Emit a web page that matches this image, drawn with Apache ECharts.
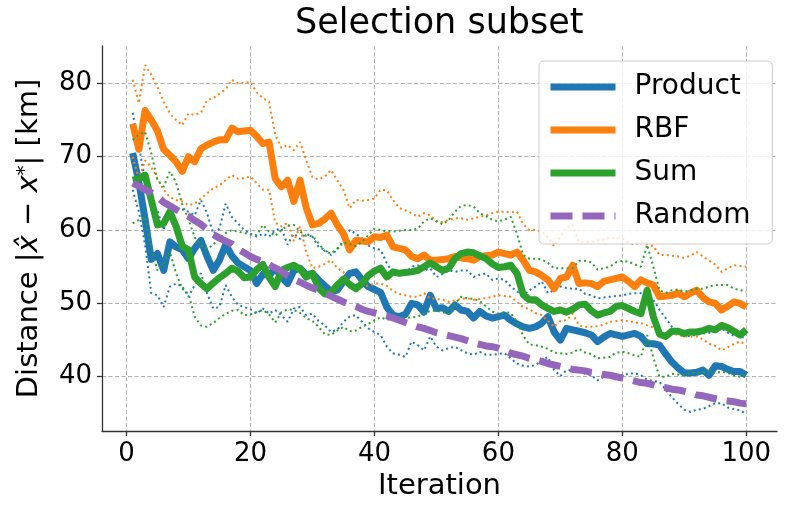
<!DOCTYPE html>
<html>
<head>
<meta charset="utf-8">
<script src="https://cdn.jsdelivr.net/npm/echarts@6/dist/echarts.min.js"></script>
<style>
  html, body { margin: 0; padding: 0; background: #fff; }
  #chart { width: 788px; height: 516px; }
</style>
</head>
<body>
<div id="chart"></div>
<script>
// iteration numbers 1..100
var iterations = Array.from({ length: 100 }, function (_, i) { return i + 1; });

var xTicks = [0, 20, 40, 60, 80, 100];
var yTicks = [40, 50, 60, 70, 80];

// mean curves
var productMean = [
  70.5, 66.5, 61.5, 56.0, 56.8, 54.5, 58.4, 57.7, 57.3, 56.1,
  57.5, 58.6, 56.4, 54.5, 55.9, 58.0, 56.5, 55.5, 55.0, 54.5,
  52.7, 54.0, 53.8, 54.8, 53.6, 52.7, 54.5, 54.8, 53.9, 54.1,
  53.2, 52.4, 51.6, 51.8, 53.0, 54.1, 54.3, 53.2, 52.3, 51.9,
  51.5, 49.5, 48.4, 48.2, 48.5, 50.0, 49.8, 48.8, 51.1, 49.3,
  49.4, 48.9, 49.8, 49.1, 48.9, 48.0, 48.9, 48.3, 48.0, 48.2,
  48.4, 47.7, 47.2, 46.8, 46.6, 46.8, 47.3, 48.2, 46.1, 45.0,
  46.6, 46.4, 46.2, 46.0, 45.7, 44.8, 45.4, 45.9, 45.7, 45.5,
  45.7, 45.9, 45.5, 44.5, 44.5, 44.3, 43.1, 42.0, 41.2, 40.5,
  40.5, 40.6, 40.9, 40.2, 41.5, 41.4, 41.0, 40.7, 40.7, 40.2
];
var rbfMean = [
  74.5, 71.0, 76.3, 75.0, 73.5, 71.0, 70.2, 69.3, 68.0, 70.0,
  69.3, 71.1, 71.6, 72.0, 72.3, 72.3, 73.9, 73.4, 73.5, 73.6,
  72.8, 71.8, 72.0, 67.0, 65.9, 66.8, 63.9, 66.8, 63.0, 60.7,
  60.9, 61.5, 62.3, 60.7, 59.5, 57.3, 58.6, 58.5, 58.4, 59.1,
  59.0, 59.3, 57.7, 57.5, 57.3, 56.4, 56.1, 56.6, 55.9, 55.9,
  56.0, 56.1, 56.4, 56.2, 56.1, 55.9, 56.4, 56.5, 56.6, 57.0,
  56.8, 56.6, 57.0, 55.9, 54.5, 54.3, 53.8, 53.2, 52.0, 53.4,
  53.6, 55.2, 52.7, 52.8, 52.7, 52.3, 53.0, 53.2, 53.4, 53.6,
  53.0, 52.3, 53.2, 52.8, 52.5, 50.9, 51.0, 51.1, 51.4, 50.9,
  51.4, 51.8, 50.8, 50.2, 50.0, 49.1, 49.6, 50.2, 50.0, 49.5
];
var sumMean = [
  66.8, 67.0, 67.5, 64.1, 60.7, 60.9, 62.5, 60.5, 57.8, 57.3,
  53.6, 52.7, 52.0, 52.8, 53.5, 54.1, 54.8, 54.4, 53.5, 53.6,
  54.6, 55.3, 53.6, 52.3, 54.5, 54.9, 55.2, 54.7, 53.6, 54.1,
  52.1, 51.3, 51.5, 52.5, 53.3, 52.6, 52.0, 52.7, 53.8, 54.4,
  54.8, 53.6, 54.3, 54.1, 54.2, 54.3, 54.5, 55.0, 55.5, 55.0,
  54.5, 54.8, 56.1, 56.8, 57.0, 56.9, 56.5, 56.1, 55.4, 54.9,
  55.0, 55.2, 54.1, 51.2, 50.5, 50.5, 49.8, 49.3, 48.9, 49.1,
  48.8, 49.2, 49.8, 49.9, 49.0, 48.4, 48.7, 48.9, 49.6, 49.7,
  49.3, 48.9, 48.6, 51.8, 48.2, 45.8, 45.5, 46.2, 46.2, 45.9,
  46.1, 46.1, 46.3, 46.6, 46.4, 47.0, 46.7, 46.2, 45.7, 46.4
];
var randomMean = [
  66.4, 66.0, 65.5, 65.1, 64.5, 63.8, 63.3, 62.8, 62.3, 61.9,
  61.3, 60.8, 60.1, 59.4, 58.9, 58.5, 58.1, 57.4, 56.9, 56.4,
  56.0, 55.7, 55.3, 54.8, 54.4, 53.8, 53.3, 52.9, 52.5, 52.1,
  51.8, 51.4, 51.0, 50.6, 50.2, 49.9, 49.6, 49.2, 48.9, 48.7,
  48.5, 48.3, 48.0, 47.7, 47.4, 47.1, 46.8, 46.6, 46.3, 46.0,
  45.8, 45.6, 45.4, 45.2, 44.9, 44.6, 44.4, 44.2, 44.1, 43.9,
  43.6, 43.2, 43.0, 42.8, 42.5, 42.3, 42.1, 41.8, 41.6, 41.4,
  41.2, 41.0, 40.9, 40.8, 40.6, 40.5, 40.3, 40.2, 40.0, 39.8,
  39.6, 39.4, 39.2, 39.1, 38.9, 38.6, 38.5, 38.3, 38.2, 38.0,
  37.8, 37.5, 37.4, 37.2, 37.0, 36.8, 36.7, 36.6, 36.4, 36.3
];

// dotted spread lines (upper / lower)
var productUpper = [
  76.0, 71.5, 66.8, 63.2, 62.7, 60.0, 63.3, 63.0, 62.8, 62.5,
  62.0, 64.1, 62.3, 59.5, 60.2, 63.6, 61.8, 60.9, 60.0, 59.5,
  59.1, 59.5, 59.1, 60.0, 60.2, 58.0, 59.5, 58.8, 59.5, 59.1,
  57.7, 57.3, 56.6, 57.3, 58.6, 60.0, 59.5, 58.9, 57.9, 57.5,
  57.3, 55.5, 54.1, 53.9, 54.1, 55.0, 55.2, 54.5, 54.8, 53.6,
  54.0, 54.5, 54.3, 54.5, 54.5, 53.6, 53.9, 54.1, 53.2, 53.4,
  53.2, 52.3, 51.6, 51.1, 51.8, 52.3, 53.0, 51.4, 51.8, 52.3,
  52.1, 52.0, 52.0, 51.3, 51.1, 50.7, 50.8, 50.9, 51.0, 51.1,
  51.3, 51.4, 51.4, 50.9, 50.5, 49.1, 48.0, 46.8, 46.0, 45.5,
  45.6, 45.7, 45.9, 46.0, 46.2, 46.6, 46.0, 45.6, 45.5, 45.2
];
var productLower = [
  65.5, 62.5, 58.0, 51.4, 51.1, 49.5, 52.3, 52.7, 52.3, 50.9,
  52.5, 54.1, 51.4, 49.3, 49.5, 52.5, 50.9, 49.8, 49.5, 49.2,
  48.6, 49.3, 48.6, 49.1, 48.4, 47.5, 49.3, 49.5, 48.4, 48.6,
  47.6, 47.0, 46.1, 46.4, 47.5, 48.2, 48.4, 47.5, 46.6, 46.1,
  45.7, 44.1, 43.2, 43.0, 42.7, 44.8, 44.3, 43.6, 45.5, 44.1,
  43.6, 43.9, 44.1, 43.6, 43.2, 43.0, 43.4, 43.0, 43.0, 43.1,
  43.2, 42.5, 41.8, 41.5, 41.4, 41.6, 42.2, 42.7, 40.9, 40.1,
  40.9, 40.9, 40.8, 40.4, 40.2, 39.5, 40.0, 40.5, 40.3, 40.2,
  40.4, 40.5, 40.2, 39.6, 39.4, 39.3, 38.2, 37.2, 36.3, 35.5,
  35.2, 35.5, 35.6, 36.0, 36.4, 36.4, 35.8, 35.6, 35.4, 35.0
];
var rbfUpper = [
  80.5, 77.3, 82.5, 81.2, 79.5, 77.5, 75.9, 75.0, 74.3, 75.9,
  75.7, 76.0, 77.7, 78.0, 78.6, 79.2, 80.5, 80.0, 80.1, 80.2,
  78.8, 78.0, 77.5, 73.0, 71.2, 71.6, 70.9, 72.0, 69.5, 67.2,
  66.9, 67.3, 68.2, 66.8, 65.5, 63.0, 64.1, 64.0, 64.1, 64.3,
  65.5, 65.4, 64.1, 63.0, 62.7, 62.3, 61.8, 62.3, 62.0, 61.2,
  61.1, 61.4, 61.6, 61.6, 61.4, 61.6, 61.8, 62.0, 62.3, 62.5,
  62.5, 62.4, 62.5, 60.8, 60.0, 60.0, 59.8, 59.0, 57.8, 59.1,
  60.4, 60.7, 58.4, 58.4, 58.4, 58.6, 58.7, 58.9, 58.9, 58.9,
  58.3, 58.0, 58.4, 58.1, 57.8, 56.6, 56.6, 56.5, 56.4, 56.2,
  56.5, 57.0, 56.4, 55.8, 55.3, 54.3, 54.8, 55.2, 55.1, 55.0
];
var rbfLower = [
  70.0, 67.0, 69.5, 68.6, 67.0, 65.5, 64.5, 64.1, 63.9, 63.4,
  63.6, 64.3, 65.0, 65.7, 66.1, 66.8, 67.5, 67.0, 67.1, 67.3,
  66.4, 65.5, 65.5, 61.0, 60.5, 61.0, 58.5, 60.5, 57.0, 54.8,
  55.0, 55.4, 55.9, 54.8, 54.3, 52.0, 52.6, 52.4, 52.4, 52.7,
  52.7, 52.4, 51.7, 51.3, 51.1, 50.9, 50.9, 51.4, 50.7, 50.6,
  50.5, 50.2, 50.4, 50.6, 50.7, 50.5, 50.6, 50.7, 50.9, 51.1,
  51.0, 50.9, 50.2, 49.5, 49.2, 48.7, 48.4, 47.6, 46.8, 47.6,
  47.7, 48.6, 47.0, 46.8, 46.8, 46.9, 47.1, 47.5, 47.6, 47.7,
  47.6, 47.4, 47.3, 47.0, 46.7, 46.1, 46.0, 45.9, 45.7, 45.5,
  45.5, 45.5, 45.1, 44.5, 44.2, 43.6, 44.0, 44.5, 44.8, 44.3
];
var sumUpper = [
  72.3, 73.0, 73.4, 70.5, 66.8, 65.9, 68.0, 66.5, 63.5, 61.5,
  59.0, 57.9, 57.4, 58.0, 59.0, 59.6, 60.0, 59.8, 59.6, 59.4,
  59.3, 60.7, 59.8, 59.2, 60.0, 60.6, 60.7, 59.8, 59.2, 59.2,
  58.2, 57.1, 56.8, 57.5, 58.3, 58.1, 57.8, 58.4, 59.3, 60.2,
  60.0, 59.8, 59.8, 59.9, 60.0, 60.0, 60.2, 61.2, 61.6, 61.2,
  60.8, 61.4, 62.5, 63.3, 63.4, 63.2, 62.3, 61.9, 61.4, 61.2,
  61.4, 61.8, 59.5, 56.6, 56.1, 56.1, 56.0, 55.5, 54.8, 54.8,
  54.8, 54.8, 55.8, 55.8, 55.6, 54.6, 54.8, 55.0, 55.6, 55.8,
  55.7, 55.3, 55.0, 58.0, 55.0, 51.8, 51.4, 51.8, 51.9, 51.6,
  51.8, 52.0, 52.0, 52.3, 52.5, 52.5, 52.5, 52.0, 51.8, 51.6
];
var sumLower = [
  60.9, 61.4, 61.8, 57.7, 54.5, 55.5, 57.0, 54.1, 52.0, 51.3,
  48.2, 47.0, 46.8, 47.3, 48.0, 48.6, 49.0, 49.1, 48.4, 48.5,
  48.8, 49.1, 48.5, 47.4, 48.8, 49.2, 49.1, 48.7, 48.0, 47.6,
  46.8, 45.8, 45.7, 46.3, 46.8, 46.2, 46.3, 46.8, 47.2, 47.7,
  48.1, 47.8, 47.8, 48.0, 48.0, 48.1, 48.2, 48.6, 49.0, 49.0,
  48.8, 48.6, 50.0, 50.9, 50.7, 50.6, 50.3, 49.6, 48.9, 48.6,
  48.8, 48.7, 47.5, 45.6, 44.4, 44.3, 44.1, 43.8, 43.3, 43.2,
  43.1, 43.3, 43.8, 43.3, 43.1, 42.5, 42.6, 42.7, 43.3, 43.4,
  43.2, 42.9, 42.7, 45.7, 42.6, 40.0, 40.0, 40.4, 40.3, 40.2,
  40.5, 40.5, 40.6, 40.7, 40.5, 40.7, 40.5, 40.2, 40.0, 40.3
];

var colors = {
  product: '#1f77b4',
  rbf: '#ff7f0e',
  sum: '#2ca02c',
  random: '#9467bd'
};
var font = 'DejaVu Sans';

function pairs(values) {
  return values.map(function (v, i) { return [iterations[i], v]; });
}

// thick mean line
function meanLine(name, values, color, dash) {
  return {
    name: name,
    type: 'line',
    data: pairs(values),
    symbol: 'none',
    showSymbol: false,
    itemStyle: { color: color },
    lineStyle: { color: color, width: 7, type: dash || 'solid', cap: 'butt', join: 'round' },
    emphasis: { disabled: true },
    silent: true
  };
}

// thin dotted spread line
function dotLine(name, values, color) {
  return {
    name: name,
    type: 'line',
    data: pairs(values),
    symbol: 'none',
    showSymbol: false,
    itemStyle: { color: color },
    lineStyle: { color: color, width: 2, type: [2, 3.2], cap: 'butt' },
    emphasis: { disabled: true },
    silent: true
  };
}

var chart = echarts.init(document.getElementById('chart'), null, { renderer: 'canvas' });

var option = {
  animation: false,
  backgroundColor: '#ffffff',
  title: {
    text: 'Selection subset',
    left: 295,
    top: 6,
    padding: 0,
    textStyle: { fontFamily: font, fontSize: 35, fontWeight: 'normal', color: '#000' }
  },
  legend: {
    data: ['Product', 'RBF', 'Sum', 'Random'],
    orient: 'vertical',
    left: 539,
    top: 61,
    padding: [12, 22, 14, 8],
    itemGap: 15,
    itemWidth: 65,
    itemHeight: 28,
    backgroundColor: 'rgba(255,255,255,0.8)',
    borderColor: '#cccccc',
    borderWidth: 1,
    borderRadius: 5,
    itemStyle: { opacity: 0, borderWidth: 0 },
    lineStyle: { width: 7 },
    textStyle: { fontFamily: font, fontSize: 28, color: '#000', padding: [0, 0, 0, 14] },
    selectedMode: false
  },
  grid: { left: 102, right: 11, top: 46, bottom: 85 },
  xAxis: {
    type: 'value',
    min: -3.95,
    max: 104.95,
    name: 'Iteration',
    nameLocation: 'middle',
    nameGap: 40,
    nameTextStyle: { fontFamily: font, fontSize: 29, color: '#000' },
    axisLine: { show: true, onZero: false, lineStyle: { color: '#333', width: 1.3 } },
    axisTick: { show: true, length: 5, customValues: xTicks, lineStyle: { color: '#333', width: 1.3 } },
    axisLabel: { customValues: xTicks, fontFamily: font, fontSize: 26, color: '#000', margin: 10 },
    splitLine: { show: true, lineStyle: { color: '#b0b0b0', width: 1, type: [4, 2.5] } }
  },
  yAxis: {
    type: 'value',
    min: 32.6,
    max: 85.1,
    name: '{n|Distance |}{i|x\u0302}{n| \u2212 }{i|x}{s|*}{n|| [km]}',
    nameLocation: 'middle',
    nameGap: 58,
    nameTextStyle: {
      fontFamily: font,
      fontSize: 29,
      color: '#000',
      rich: {
        n: { fontFamily: font, fontSize: 29, color: '#000' },
        i: { fontFamily: font, fontSize: 29, fontStyle: 'italic', color: '#000' },
        s: { fontFamily: font, fontSize: 20, color: '#000', verticalAlign: 'top' }
      }
    },
    axisLine: { show: true, onZero: false, lineStyle: { color: '#333', width: 1.3 } },
    axisTick: { show: true, length: 5, customValues: yTicks, lineStyle: { color: '#333', width: 1.3 } },
    axisLabel: { customValues: yTicks, fontFamily: font, fontSize: 26, color: '#000', margin: 10 },
    splitLine: { show: true, lineStyle: { color: '#b0b0b0', width: 1, type: [4, 2.5] } }
  },
  series: [
    meanLine('Product', productMean, colors.product),
    dotLine('Product upper', productUpper, colors.product),
    dotLine('Product lower', productLower, colors.product),
    meanLine('RBF', rbfMean, colors.rbf),
    dotLine('RBF upper', rbfUpper, colors.rbf),
    dotLine('RBF lower', rbfLower, colors.rbf),
    meanLine('Sum', sumMean, colors.sum),
    dotLine('Sum upper', sumUpper, colors.sum),
    dotLine('Sum lower', sumLower, colors.sum),
    meanLine('Random', randomMean, colors.random, [22, 10])
  ]
};

chart.setOption(option);
</script>
</body>
</html>
